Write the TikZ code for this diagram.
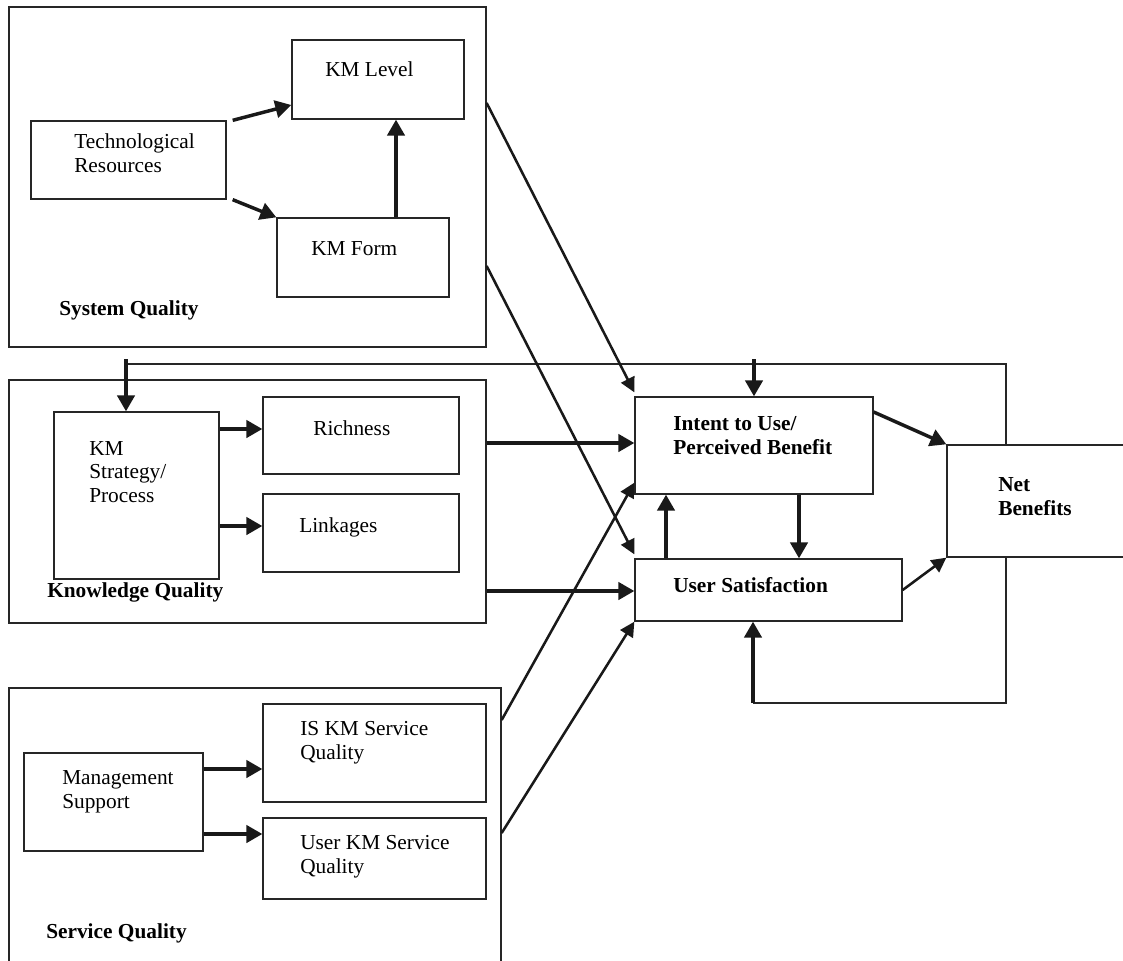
\documentclass[tikz,border=0pt]{standalone}
\usepackage{fontspec}
\setmainfont{Liberation Serif}
\usetikzlibrary{arrows.meta,fit}

\tikzset{
  box/.style={draw=black!85, line width=1pt, inner sep=0pt},
  thin line/.style={draw=black!85, line width=1pt},
  link/.style={draw=black!90, line width=2.6pt, -{Triangle[length=12pt,width=13pt]}},
  diag/.style={draw=black!90, line width=1.9pt, -{Triangle[length=11pt,width=11pt]}},
  txt/.style={anchor=base west, inner sep=0pt, align=left, font=\fontsize{16}{17.3}\selectfont},
  btxt/.style={txt, font=\fontsize{16}{17.3}\selectfont\bfseries},
}

\begin{document}
\begin{tikzpicture}[x=0.75pt, y=-0.75pt]
\useasboundingbox (0,0) rectangle (1123,960);
\fill[white] (0,0) rectangle (1123,960);
\clip (0,0) rectangle (1123,960);

% ---- System quality group
\node[box, fit={(9,7) (486,347)}] (sysq) {};
\node[box, fit={(31,121) (226,199)}] (tr) {};
\node[box, fit={(292,40) (464,119)}] (kml) {};
\node[box, fit={(277,218) (449,297)}] (kmf) {};
% multi-line labels are placed by the baseline of their last line
\node[txt] (trT) at (74,172) {Technological\\Resources};
\node[txt] (kmlT) at (325,76) {KM Level};
\node[txt] (kmfT) at (311,255) {KM Form};
\node[btxt] (sysqT) at (59,315) {System Quality};

% ---- Knowledge quality group
\node[box, fit={(9,380) (486,623)}] (knq) {};
\node[box, fit={(54,412) (219,579)}] (kms) {};
\node[box, fit={(263,397) (459,474)}] (rich) {};
\node[box, fit={(263,494) (459,572)}] (lnk) {};
\node[txt] (kmsT) at (89,502) {KM\\Strategy/\\Process};
\node[txt] (richT) at (313,435) {Richness};
\node[txt] (lnkT) at (299,532) {Linkages};
\node[btxt] (knqT) at (47,597) {Knowledge Quality};

% ---- Service quality group
\node[box, fit={(9,688) (501,985)}] (svq) {};
\node[box, fit={(24,753) (203,851)}] (ms) {};
\node[box, fit={(263,704) (486,802)}] (iskm) {};
\node[box, fit={(263,818) (486,899)}] (ukm) {};
\node[txt] (msT) at (62,808) {Management\\Support};
\node[txt] (iskmT) at (300,759) {IS KM Service\\Quality};
\node[txt] (ukmT) at (300,873) {User KM Service\\Quality};
\node[btxt] (svqT) at (46,938) {Service Quality};

% ---- Feedback loop (drawn before the net benefits box covers it)
\coordinate (fbL) at (126,364);
\coordinate (fbTR) at (1006,364);
\coordinate (fbBR) at (1006,703);
\coordinate (fbBL) at (753,703);
\draw[thin line] (fbL) -- (fbTR) -- (fbBR) -- (fbBL);

% ---- Outcome boxes
\node[box, fit={(635,397) (873,494)}] (itu) {};
\node[box, fit={(635,559) (902,621)}] (us) {};
\node[box, fill=white, fit={(947,445) (1135,557)}] (nb) {};
\node[btxt] (ituT) at (673,454) {Intent to Use/\\Perceived Benefit};
\node[btxt] (usT) at (673,592) {User Satisfaction};
\node[btxt] (nbT) at (998,515) {Net\\Benefits};

% ---- Arrows inside the groups
\draw[link] ([xshift=4.5pt]tr.north east) -- ([yshift=11pt]kml.south west);
\draw[link] ([xshift=4.5pt]tr.south east) -- (kmf.north west);
\draw[link] (kmf.north -| 396,0) -- (kml.south -| 396,0);
\draw[link] (kms.east |- 0,429) -- (rich.west |- 0,429);
\draw[link] (kms.east |- 0,526) -- (lnk.west |- 0,526);
\draw[link] (ms.east |- 0,769) -- (iskm.west |- 0,769);
\draw[link] (ms.east |- 0,834) -- (ukm.west |- 0,834);

% ---- Feedback arrows
\draw[link] (126,359) -- (kms.north -| fbL);
\draw[link] (754,359) -- (itu.north -| 754,0);
\draw[link] (fbBL) -- (us.south -| fbBL);

% ---- Arrows into the outcome boxes
\draw[diag] (sysq.east |- 0,103) -- ([yshift=3pt]itu.north west);
\draw[diag] (sysq.east |- 0,266) -- ([yshift=3pt]us.north west);
\draw[link] (knq.east |- 0,443) -- (itu.west |- 0,443);
\draw[link] (knq.east |- 0,591) -- (us.west |- 0,591);
\draw[diag] (svq.east |- 0,720) -- ([yshift=9pt]itu.south west);
\draw[diag] (svq.east |- 0,833) -- (us.south west);

% ---- Between outcomes
\draw[link] (us.north -| 666,0) -- (itu.south -| 666,0);
\draw[link] (itu.south -| 799,0) -- (us.north -| 799,0);
\draw[link] (itu.east |- 0,412) -- (nb.north west);
\draw[diag] (us.east |- 0,590) -- (nb.south west);
\end{tikzpicture}
\end{document}
